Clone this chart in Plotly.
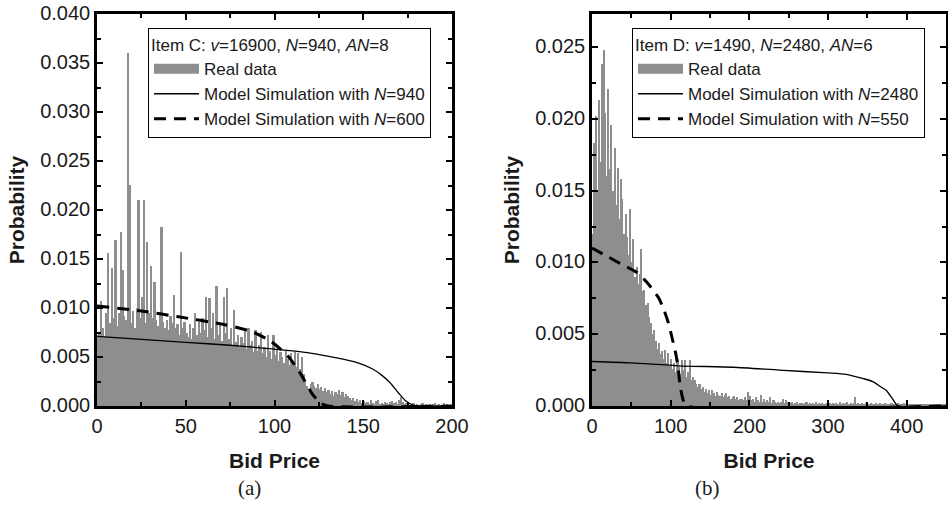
import plotly.graph_objects as go

# ---------------- DATA ----------------
# Item C histogram: probability per unit bid-price bin (0..199), values x1e-4
c_prob_e4 = [
    72, 75, 107, 80, 70, 95, 156, 85, 141, 90,
    169, 82, 95, 178, 139, 92, 88, 360, 226, 85,
    97, 80, 100, 210, 90, 111, 210, 85, 167, 95,
    143, 90, 127, 88, 82, 95, 183, 86, 80, 88,
    78, 92, 85, 113, 80, 84, 72, 157, 80, 86,
    74, 70, 84, 68, 80, 95, 72, 86, 75, 90,
    78, 111, 70, 110, 80, 95, 68, 122, 72, 85,
    66, 111, 75, 120, 68, 80, 62, 98, 65, 72,
    60, 70, 64, 78, 58, 80, 62, 66, 55, 78,
    56, 62, 76, 54, 60, 50, 72, 56, 48, 72,
    52, 57, 46, 55, 50, 44, 56, 48, 42, 54,
    45, 55, 40, 54, 38, 50, 33, 25, 20, 15,
    22, 24, 20, 18, 22, 17, 19, 15, 18, 14,
    16, 12, 15, 10, 14, 12, 16, 11, 14, 9,
    12, 10, 8, 6, 8, 5, 7, 4, 6, 3,
    5, 3, 4, 2, 6, 3, 2, 5, 6, 2,
    3, 2, 4, 3, 2, 4, 5, 3, 4, 2,
    6, 9, 4, 2, 3, 2, 1, 2, 3, 1,
    2, 1, 2, 3, 1, 2, 1, 2, 1, 2,
    3, 1, 2, 1, 1, 3, 1, 2, 1, 1,
]
c_bin_width = 1

# Item D histogram: probability per 2-unit bid-price bin (0..448), values x1e-4
d_prob_e4 = [
    120, 183, 202, 150, 213, 170, 238, 248, 204, 160,
    221, 165, 196, 150, 180, 140, 166, 130, 158, 144,
    120, 134, 118, 105, 137, 100, 116, 90, 97, 85,
    92, 109, 80, 81, 70, 72, 62, 58, 50, 53,
    45, 40, 44, 36, 38, 33, 39, 30, 37, 28,
    33, 26, 30, 24, 33, 27, 22, 32, 25, 32,
    20, 24, 32, 18, 20, 18, 15, 13, 15, 12,
    13, 10, 12, 9, 11, 8, 11, 9, 7, 10,
    8, 7, 9, 6, 8, 9, 6, 7, 5, 6,
    7, 5, 6, 4, 5, 5, 4, 6, 4, 10,
    7, 4, 5, 3, 6, 4, 3, 8, 3, 5,
    3, 4, 3, 6, 2, 4, 3, 2, 3, 2,
    3, 5, 2, 4, 3, 2, 2, 3, 1, 2,
    3, 1, 2, 2, 1, 2, 3, 1, 2, 1,
    2, 1, 3, 1, 2, 1, 2, 1, 1, 2,
    1, 2, 1, 2, 1, 2, 1, 3, 1, 2,
    1, 2, 3, 1, 2, 1, 2, 6, 1, 2,
    1, 2, 1, 1, 2, 1, 1, 2, 1, 1,
    2, 1, 1, 2, 1, 1, 2, 1, 1, 1,
    2, 1, 1, 1, 2, 1, 1, 1, 2, 1,
    1, 1, 1, 1, 1, 1, 1, 1, 1, 1,
    1, 1, 1, 1, 1, 1, 1, 1, 1, 1,
    1, 1, 1, 1, 1,
]
d_bin_width = 2

# Model simulation curves
c_sim940_x = [0, 25, 50, 75, 100, 120, 135, 147, 155, 160, 165, 170, 174, 178, 182, 200]
c_sim940_y = [0.0071, 0.0068, 0.0065, 0.0062, 0.0058, 0.0054, 0.0049, 0.0044, 0.0038,
              0.0032, 0.0024, 0.0013, 0.0005, 0.0001, 0.0, 0.0]
c_sim600_x = [0, 25, 46, 72, 87, 98, 108, 115, 121, 126, 130, 200]
c_sim600_y = [0.0102, 0.0097, 0.0091, 0.0083, 0.0076, 0.0066, 0.0050, 0.0032, 0.0013,
              0.0003, 0.0, 0.0]

d_sim2480_x = [0, 50, 110, 180, 238, 300, 323, 345, 357, 368, 374, 382, 389, 450]
d_sim2480_y = [0.0031, 0.0030, 0.0028, 0.0027, 0.0025, 0.0023, 0.0022, 0.0019, 0.0017,
               0.0013, 0.0011, 0.0005, 0.0, 0.0]
d_sim550_x = [0, 20, 40, 57, 70, 85, 92, 97, 102, 107, 110, 112, 116, 120, 450]
d_sim550_y = [0.0110, 0.0104, 0.0098, 0.0093, 0.0086, 0.0075, 0.0066, 0.0058, 0.0047,
              0.0035, 0.0024, 0.0014, 0.0004, 0.0, 0.0]

legend_c_title = "Item C: <i>v</i>=16900, <i>N</i>=940, <i>AN</i>=8"
legend_d_title = "Item D: <i>v</i>=1490, <i>N</i>=2480, <i>AN</i>=6"
names_c = ["Real data", "Model Simulation with <i>N</i>=940", "Model Simulation with <i>N</i>=600"]
names_d = ["Real data", "Model Simulation with <i>N</i>=2480", "Model Simulation with <i>N</i>=550"]
captions = ["(a)", "(b)"]

# ---------------- FIGURE ----------------
W, H = 948, 517
BAR = "#8e8e90"
FONT = "Liberation Sans, Arial, sans-serif"
TXT = "#1a1a1a"


def px_x(p):
    return p / W


def px_y(p):
    return 1 - p / H


fig = go.Figure()


def add_panel(vals, bw, sx, sy, dx_, dy_, names, xa, ya, lg):
    # legend-only swatch for the histogram (wide gray bar like the original)
    fig.add_trace(go.Scatter(x=[None], y=[None], mode="lines", name=names[0],
                             line=dict(color=BAR, width=14), xaxis=xa, yaxis=ya, legend=lg))
    fig.add_trace(go.Bar(y=[v * 1e-4 for v in vals], x0=bw / 2, dx=bw, width=bw,
                         marker=dict(color=BAR, line=dict(width=0)), showlegend=False,
                         name=names[0], xaxis=xa, yaxis=ya))
    fig.add_trace(go.Scatter(x=sx, y=sy, mode="lines",
                             line=dict(color="black", width=1.3, shape="spline", smoothing=0.6),
                             name=names[1], xaxis=xa, yaxis=ya, legend=lg))
    fig.add_trace(go.Scatter(x=dx_, y=dy_, mode="lines",
                             line=dict(color="black", width=3, dash="12px,8px", shape="spline",
                                       smoothing=0.6),
                             name=names[2], xaxis=xa, yaxis=ya, legend=lg))


add_panel(c_prob_e4, c_bin_width, c_sim940_x, c_sim940_y, c_sim600_x, c_sim600_y,
          names_c, "x", "y", "legend")
add_panel(d_prob_e4, d_bin_width, d_sim2480_x, d_sim2480_y, d_sim550_x, d_sim550_y,
          names_d, "x2", "y2", "legend2")

minor_style = dict(ticks="inside", ticklen=4, tickwidth=2, tickcolor="black")
ax_common = dict(showgrid=False, zeroline=False, showline=True, linecolor="black", linewidth=2.5,
                 mirror="allticks", ticks="inside", ticklen=6, tickwidth=2, tickcolor="black",
                 tickfont=dict(family=FONT, size=20, color=TXT), automargin=False,
                 ticklabeloverflow="allow")
xt = dict(text="<b>Bid Price</b>", font=dict(family=FONT, size=21, color=TXT), standoff=18)
yt = dict(text="<b>Probability</b>", font=dict(family=FONT, size=21, color=TXT), standoff=10)

legend_common = dict(xanchor="left", yanchor="top", bordercolor="black", borderwidth=1,
                     bgcolor="rgba(255,255,255,0)", font=dict(family=FONT, size=17, color=TXT),
                     itemwidth=45, tracegroupgap=0)

fig.update_layout(
    width=W, height=H, margin=dict(l=0, r=0, t=0, b=0),
    paper_bgcolor="white", plot_bgcolor="white", bargap=0, showlegend=True,
    xaxis=dict(domain=[px_x(97), px_x(452)], range=[0, 200], dtick=50, anchor="y",
               minor=dict(dtick=25, **minor_style), title=xt, **ax_common),
    yaxis=dict(domain=[px_y(406), px_y(14)], range=[0, 0.040], dtick=0.005, tickformat=".3f",
               anchor="x", minor=dict(dtick=0.0025, **minor_style), title=yt,
               ticklabelshift=-1, **ax_common),
    xaxis2=dict(domain=[px_x(592), px_x(946)], range=[0, 450], dtick=100, anchor="y2",
                minor=dict(dtick=50, **minor_style), title=xt, **ax_common),
    yaxis2=dict(domain=[px_y(406), px_y(14)], range=[0, 0.0273], dtick=0.005, tickformat=".3f",
                anchor="x2", minor=dict(dtick=0.0025, **minor_style), title=yt,
                ticklabelshift=-1, **ax_common),
    legend=dict(x=px_x(148), y=px_y(28),
                title=dict(text=legend_c_title, font=dict(family=FONT, size=17, color=TXT)),
                **legend_common),
    legend2=dict(x=px_x(632), y=px_y(28),
                 title=dict(text=legend_d_title, font=dict(family=FONT, size=17, color=TXT)),
                 **legend_common),
    annotations=[
        dict(text=captions[0], x=px_x(236), y=px_y(502), xref="paper", yref="paper",
             showarrow=False, font=dict(family="Liberation Serif, serif", size=21, color=TXT)),
        dict(text=captions[1], x=px_x(722), y=px_y(502), xref="paper", yref="paper",
             showarrow=False, font=dict(family="Liberation Serif, serif", size=21, color=TXT)),
    ],
)

# remove the default page margin so the figure fills the 948x517 window exactly
fig.write_html("out.html", config={"displayModeBar": False},
               post_script="document.body.style.margin='0';document.body.style.overflow='hidden';")
